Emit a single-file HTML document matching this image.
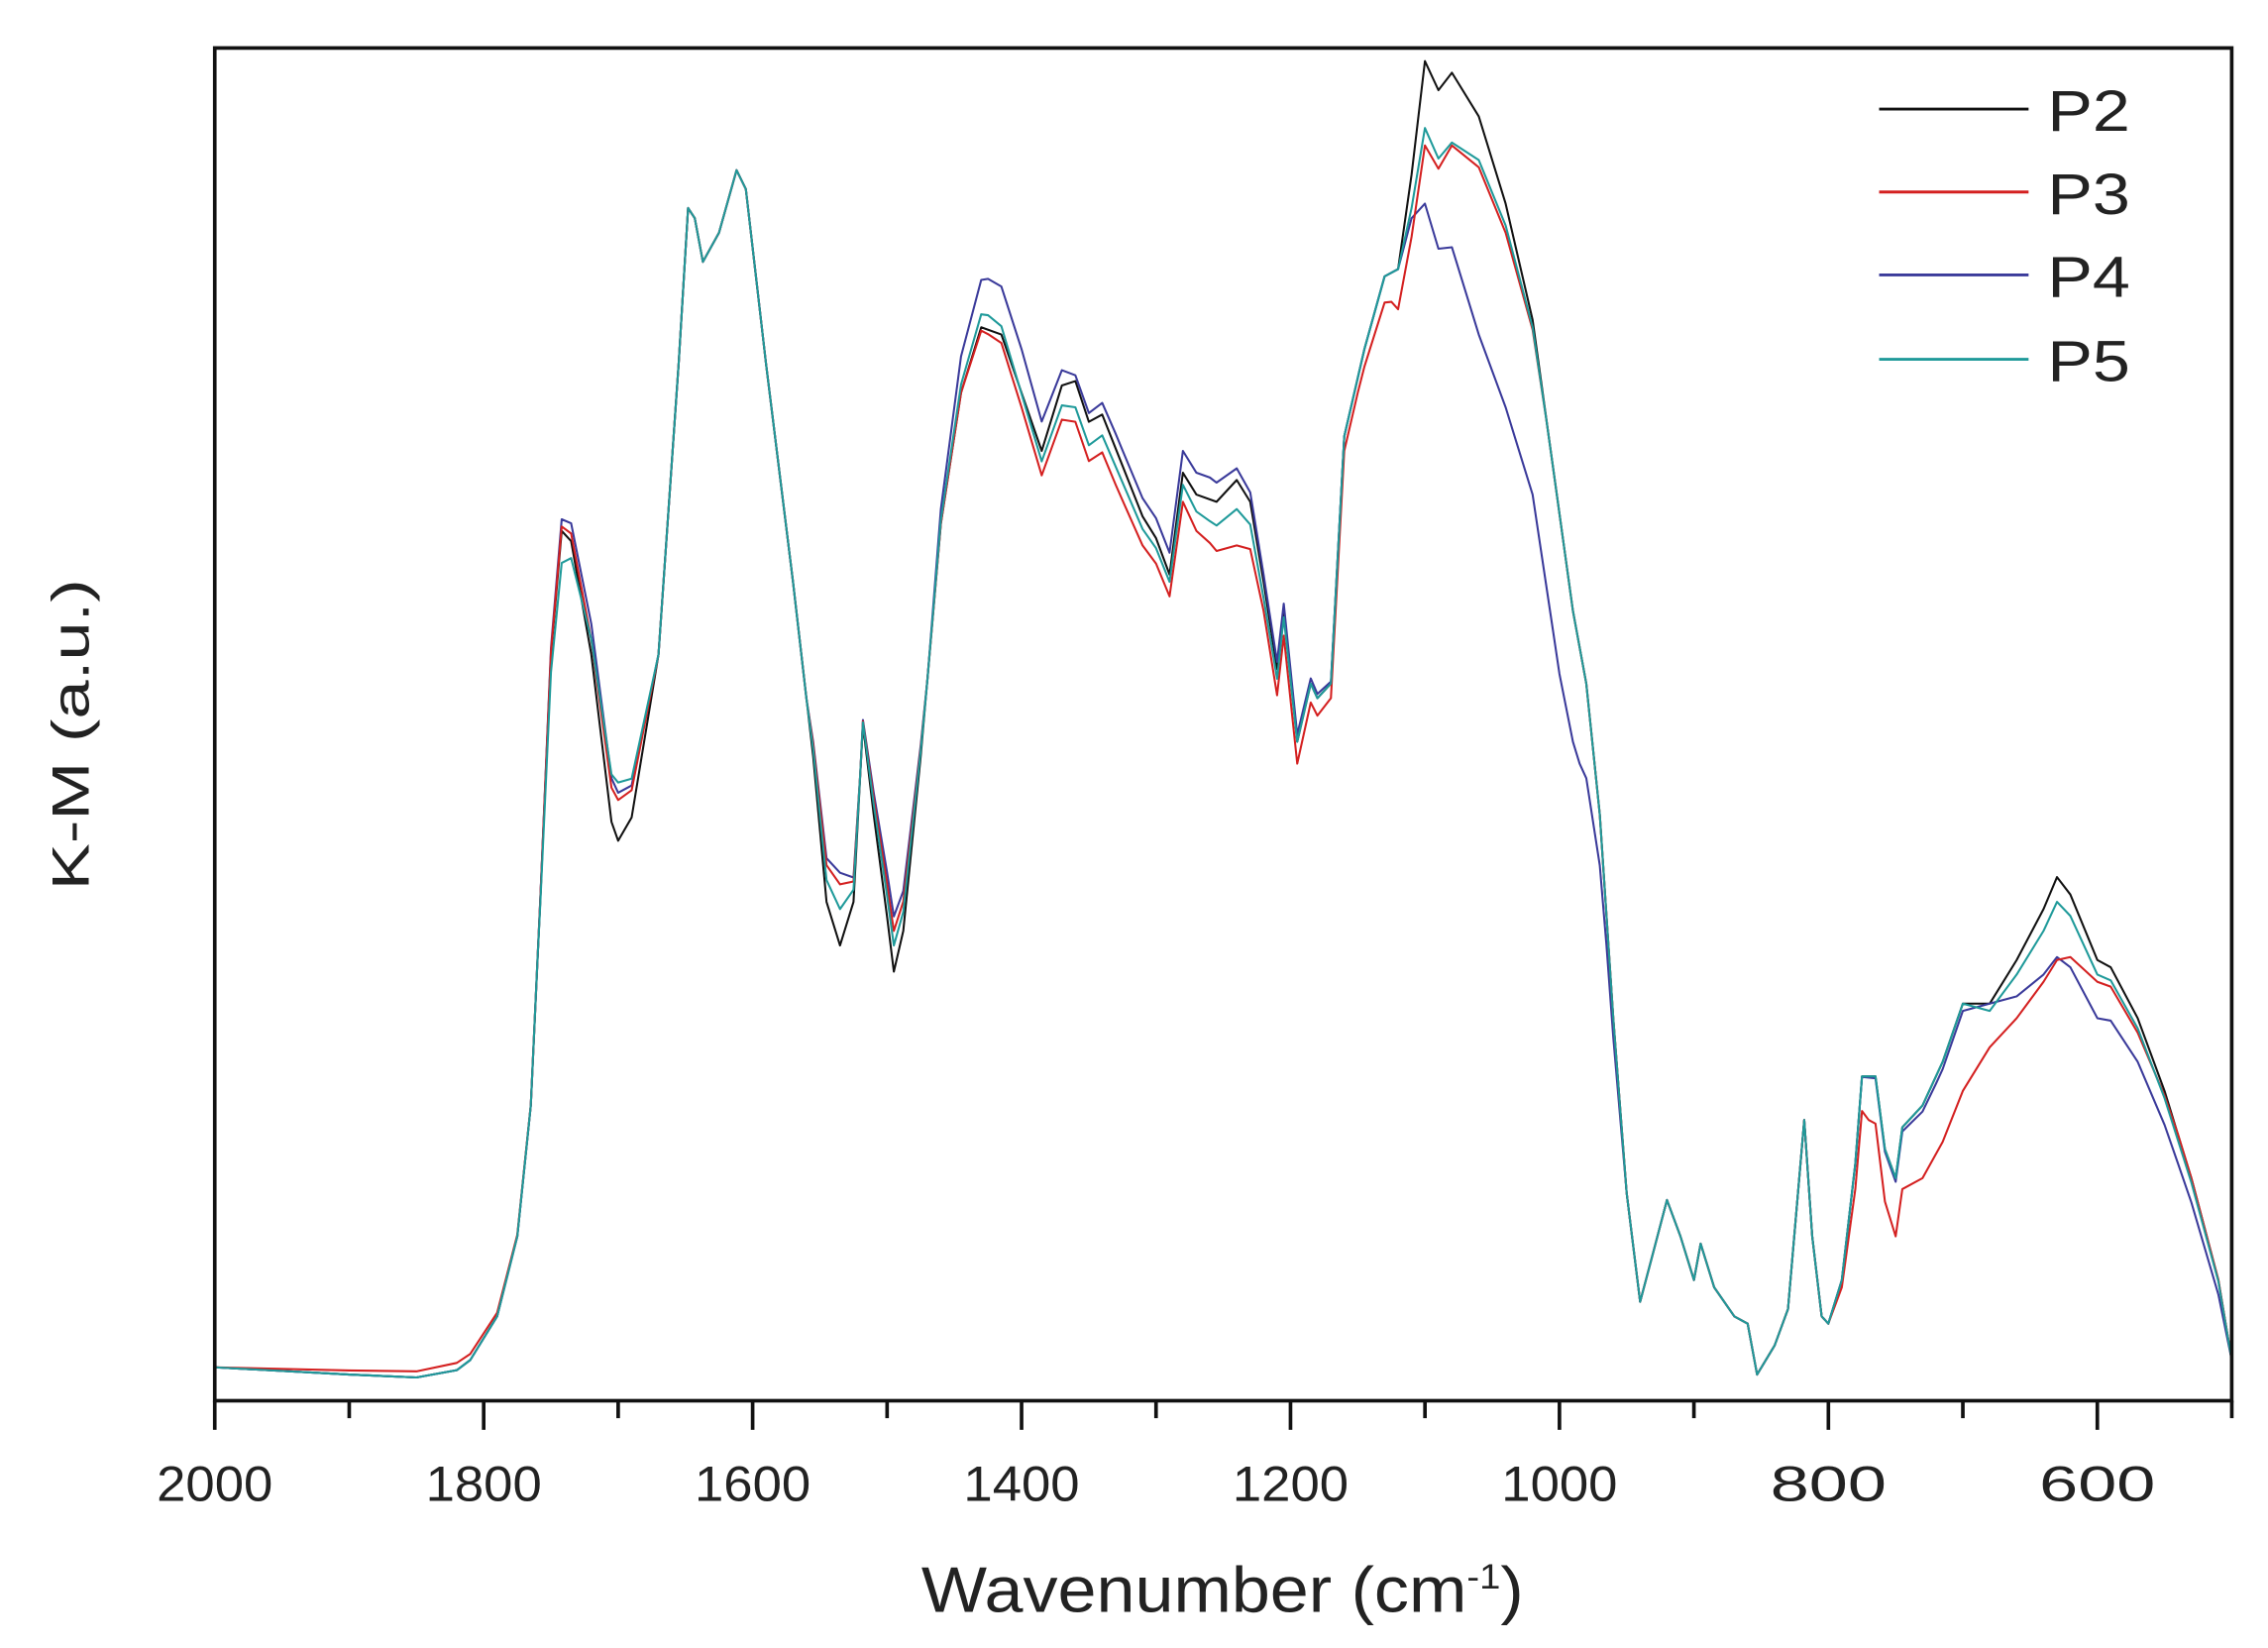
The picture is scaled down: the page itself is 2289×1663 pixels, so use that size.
<!DOCTYPE html>
<html><head><meta charset="utf-8"><style>
html,body{margin:0;padding:0;background:#fff;}
svg{display:block;}
text{font-family:"Liberation Sans",Arial,sans-serif;fill:#222;}
</style></head><body>
<svg id="s" width="2289" height="1663" viewBox="0 0 1563 1133" preserveAspectRatio="none" xmlns="http://www.w3.org/2000/svg">
<rect x="0" y="0" width="1563" height="1133" fill="#fff"/>
<g id="curves" fill="none" stroke-width="1.4" stroke-linejoin="round"></g>
<rect x="148" y="33" width="1390" height="930" fill="none" stroke="#111" stroke-width="2.5"/>
<g id="ticks" stroke="#111" stroke-width="2.5"></g>
<g id="tl" font-size="34"></g>
<text x="635" y="1108" font-size="44" textLength="415" lengthAdjust="spacingAndGlyphs">Wavenumber (cm<tspan dy="-16" font-size="24">-1</tspan><tspan dy="16">)</tspan></text>
<text transform="translate(61,612) rotate(-90)" font-size="36" textLength="214" lengthAdjust="spacingAndGlyphs">K-M (a.u.)</text>
<g stroke-width="2">
<line x1="1295" y1="75" x2="1398" y2="75" stroke="#111"/>
<line x1="1295" y1="132" x2="1398" y2="132" stroke="#d42020"/>
<line x1="1295" y1="189" x2="1398" y2="189" stroke="#3a3a9a"/>
<line x1="1295" y1="247" x2="1398" y2="247" stroke="#1f9a9a"/>
</g>
<g font-size="40">
<text x="1411" y="90" textLength="57" lengthAdjust="spacingAndGlyphs">P2</text>
<text x="1411" y="147" textLength="57" lengthAdjust="spacingAndGlyphs">P3</text>
<text x="1411" y="204" textLength="57" lengthAdjust="spacingAndGlyphs">P4</text>
<text x="1411" y="262" textLength="57" lengthAdjust="spacingAndGlyphs">P5</text>
</g>
</svg>
<script>
const X=w=>148+(2000-w)*0.9267;
const base=[[2000,940],[1900,945],[1850,947],[1820,942],[1810,935],[1790,905],[1775,850],[1765,760],[1758,620],[1750,450],[1742,365],[1735,372],[1720,450],[1705,565],[1700,578],[1690,562],[1670,450],[1655,250],[1648,143],[1643,150],[1637,180],[1625,160],[1612,117],[1605,130],[1590,250],[1570,400],[1555,520],[1545,620],[1535,650],[1525,620],[1518,498],[1510,560],[1500,630],[1495,668],[1488,640],[1475,520],[1460,360],[1445,270],[1430,225],[1415,230],[1400,270],[1385,310],[1370,265],[1360,262],[1350,290],[1340,285],[1325,320],[1310,355],[1300,370],[1290,395],[1280,325],[1270,340],[1255,345],[1240,330],[1230,345],[1220,400],[1210,460],[1205,420],[1195,510],[1185,470],[1180,480],[1170,470],[1160,300],[1145,240],[1130,190],[1120,185],[1110,120],[1100,42],[1090,62],[1080,50],[1060,80],[1040,140],[1020,220],[1005,320],[990,420],[980,470],[970,560],[960,700],[950,820],[940,895],[930,860],[920,825],[910,850],[900,880],[895,855],[885,885],[870,905],[860,910],[853,945],[840,925],[830,900],[818,770],[812,850],[805,905],[800,910],[790,880],[780,800],[775,740],[765,740],[758,790],[750,810],[745,775],[730,760],[715,730],[700,690],[680,690],[660,660],[640,625],[630,603],[620,615],[600,660],[590,665],[570,700],[550,750],[530,810],[510,880],[500,935]];
function interp(arr,w){for(let i=0;i<arr.length-1;i++){const a=arr[i],b=arr[i+1];if(w<=a[0]&&w>=b[0]){return a[1]+(b[1]-a[1])*(a[0]-w)/(a[0]-b[0]);}}return 0;}
const D={
P2:[[2000,0],[500,0]],
P3:[[2000,0],[1820,-5],[1760,0],[1742,-3],[1720,-10],[1700,-28],[1670,0],[1560,0],[1535,-42],[1520,0],[1495,-28],[1470,0],[1445,0],[1425,3],[1400,10],[1360,28],[1330,25],[1290,15],[1260,30],[1240,45],[1220,20],[1195,15],[1170,10],[1150,10],[1125,20],[1100,58],[1080,50],[1060,35],[1040,20],[1010,0],[800,0],[790,5],[770,30],[750,40],[730,50],[700,60],[680,30],[660,40],[640,50],[630,57],[600,15],[570,10],[540,0],[500,0]],
P4:[[2000,0],[1760,0],[1742,-8],[1700,-33],[1670,0],[1560,0],[1535,-50],[1520,0],[1495,-38],[1470,0],[1445,-25],[1425,-35],[1400,-30],[1360,-4],[1330,-10],[1290,-15],[1260,-15],[1240,-8],[1220,-5],[1195,-5],[1160,0],[1120,0],[1110,30],[1100,98],[1080,120],[1060,150],[1040,140],[1020,120],[1000,110],[985,80],[965,20],[950,0],[780,0],[720,5],[700,5],[680,0],[660,25],[640,45],[630,55],[600,40],[570,30],[540,20],[510,10],[500,0]],
P5:[[2000,0],[1760,0],[1742,22],[1700,-40],[1670,0],[1560,0],[1535,-25],[1520,0],[1495,-18],[1470,0],[1425,-10],[1360,18],[1290,5],[1260,15],[1240,20],[1195,0],[1120,0],[1100,46],[1080,48],[1060,30],[1040,15],[1010,0],[800,0],[700,0],[640,15],[630,17],[600,10],[550,5],[500,0]]};
const cols={P2:"#111",P4:"#3a3a9a",P3:"#d42020",P5:"#1f9a9a"};
const g=document.getElementById('curves');
for(const k of ["P2","P4","P3","P5"]){
 const ws=new Set(base.map(p=>p[0]));D[k].forEach(p=>ws.add(p[0]));
 const arr=[...ws].sort((a,b)=>b-a);
 const pts=arr.map(w=>X(w).toFixed(1)+","+(interp(base,w)+interp(D[k],w)).toFixed(1)).join(" ");
 const pl=document.createElementNS("http://www.w3.org/2000/svg","polyline");
 pl.setAttribute("points",pts);pl.setAttribute("stroke",cols[k]);g.appendChild(pl);
}
const t=document.getElementById('ticks'),tl=document.getElementById('tl');
for(let w=2000;w>=500;w-=100){
 const x=X(w),maj=w%200==0;
 const l=document.createElementNS("http://www.w3.org/2000/svg","line");
 l.setAttribute("x1",x);l.setAttribute("x2",x);l.setAttribute("y1",963);l.setAttribute("y2",maj?983:975);t.appendChild(l);
 if(maj){const tx=document.createElementNS("http://www.w3.org/2000/svg","text");tx.setAttribute("x",x-40);tx.setAttribute("y",1032);tx.setAttribute("textLength",80);tx.setAttribute("lengthAdjust","spacingAndGlyphs");tx.textContent=w;tl.appendChild(tx);}
}
</script>
</body></html>
